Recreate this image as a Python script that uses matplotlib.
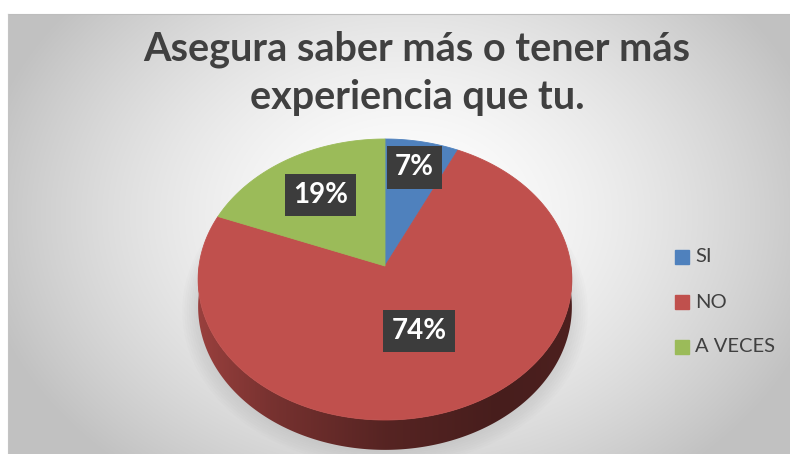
import numpy as np
import matplotlib.pyplot as plt
from matplotlib.patches import Polygon
from matplotlib.colors import to_rgb

# -------------------------------------
# Data
# -------------------------------------
title = 'Asegura saber más o tener más\nexperiencia que tu.'
categories = ['SI', 'NO', 'A VECES']
percent = [7, 74, 19]
colors = ['#4f81bd', '#c0504d', '#9bbb59']

# -------------------------------------
# Layout (pixels)
# -------------------------------------
W, H = 790, 454
CX, CY = 385, 266        # pie centre on screen
RX, RY = 186, 139.2      # radii of the top face
PERSP = 0.0961           # small perspective so the back looks shorter
DEPTH = 27               # thickness of the pie
label_r = [0.78, 0.48, 0.65]


def project(theta, r=1.0, drop=0.0):
    """Map polar coords on the pie disk to screen pixels."""
    x = r * np.cos(theta)
    z = r * np.sin(theta)
    s = 1.0 / (1.0 + PERSP * z)
    return CX + RX * x * s, CY - RY * z * s + drop * s


fig = plt.figure(figsize=(W / 100, H / 100), dpi=100)
fig.patch.set_facecolor('white')
ax = fig.add_axes([0, 0, 1, 1])
ax.set_xlim(0, W)
ax.set_ylim(H, 0)
ax.axis('off')

# radial background gradient
yy, xx = np.mgrid[14:H, 8:W]
d = np.hypot((xx - 405) / 430.0, (yy - 215) / 330.0)
g = np.clip(1.0 - 0.24 * d ** 1.6, 0.76, 1.0)
ax.imshow(np.dstack([g, g, g]), extent=[8, W, H, 14], aspect='auto', zorder=0)
ax.plot([8, W], [14, 14], color='#bdbdbd', lw=0.8, zorder=1)
ax.plot([8, 8], [14, H], color='#c4c4c4', lw=0.8, zorder=1)

# slice angles, clockwise from 12 o'clock
total = float(sum(percent))
bounds = []
start = np.pi / 2
for v in percent:
    end = start - 2 * np.pi * v / total
    bounds.append((start, end))
    start = end

# soft shadow under the pie
for k in range(8):
    t = np.linspace(0, 2 * np.pi, 200)
    sx, sy = project(t, 1.0 + 0.012 * k, DEPTH + 2)
    ax.fill(sx, sy, color='#9a9a9a', alpha=0.035, lw=0, zorder=2)

# side wall: front half is all in the big slice
front = max(range(len(percent)), key=lambda i: percent[i])
th = np.linspace(np.pi, 2 * np.pi, 300)
tx, ty = project(th)
bx, by = project(th[::-1], drop=DEPTH)
wall = Polygon(np.column_stack([np.r_[tx, bx], np.r_[ty, by]]),
               closed=True, fc='none', ec='none', zorder=3)
ax.add_patch(wall)
cols = np.linspace(CX - RX - 2, CX + RX + 2, 400)
f = (cols - cols[0]) / (cols[-1] - cols[0])
shade = np.interp(f, [0, 0.2, 0.5, 0.8, 1.0], [0.80, 0.62, 0.45, 0.37, 0.40])
base = np.array(to_rgb(colors[front]))
strip = (shade[:, None] * base[None, :])[None, :, :]
img = ax.imshow(np.repeat(strip, 2, axis=0),
                extent=[cols[0], cols[-1], CY + RY * 1.3 + DEPTH, CY - 20],
                aspect='auto', zorder=3, interpolation='bilinear')
img.set_clip_path(wall)

# top face
for (t1, t2), c in zip(bounds, colors):
    t = np.linspace(t1, t2, 200)
    px, py = project(t)
    px = np.concatenate([[CX], px])
    py = np.concatenate([[CY], py])
    ax.fill(px, py, color=c, lw=0.6, ec=c, zorder=4)

# percentage labels
for (t1, t2), v, r in zip(bounds, percent, label_r):
    lx, ly = project(0.5 * (t1 + t2), r)
    ax.text(lx, ly, '{:.0f}%'.format(v), color='white', fontsize=20,
            fontweight='bold', family='Lato', ha='center', va='center', zorder=6,
            bbox=dict(boxstyle='square,pad=0.3', fc='#3c3c3c', ec='none'))

# title
ax.text(417, 73, title, ha='center', va='center', fontsize=28.5,
        fontweight='bold', family='Lato', color='#404040',
        linespacing=1.35, zorder=6)

# legend
for i, (name, c) in enumerate(zip(categories, colors)):
    y = 257 + 45 * i
    ax.add_patch(plt.Rectangle((675, y - 7), 14, 14, color=c, zorder=6))
    ax.text(695, y, name, ha='left', va='center', fontsize=14.5,
            family='Lato', color='#404040', zorder=6)

fig.savefig('out.png', dpi=100)
